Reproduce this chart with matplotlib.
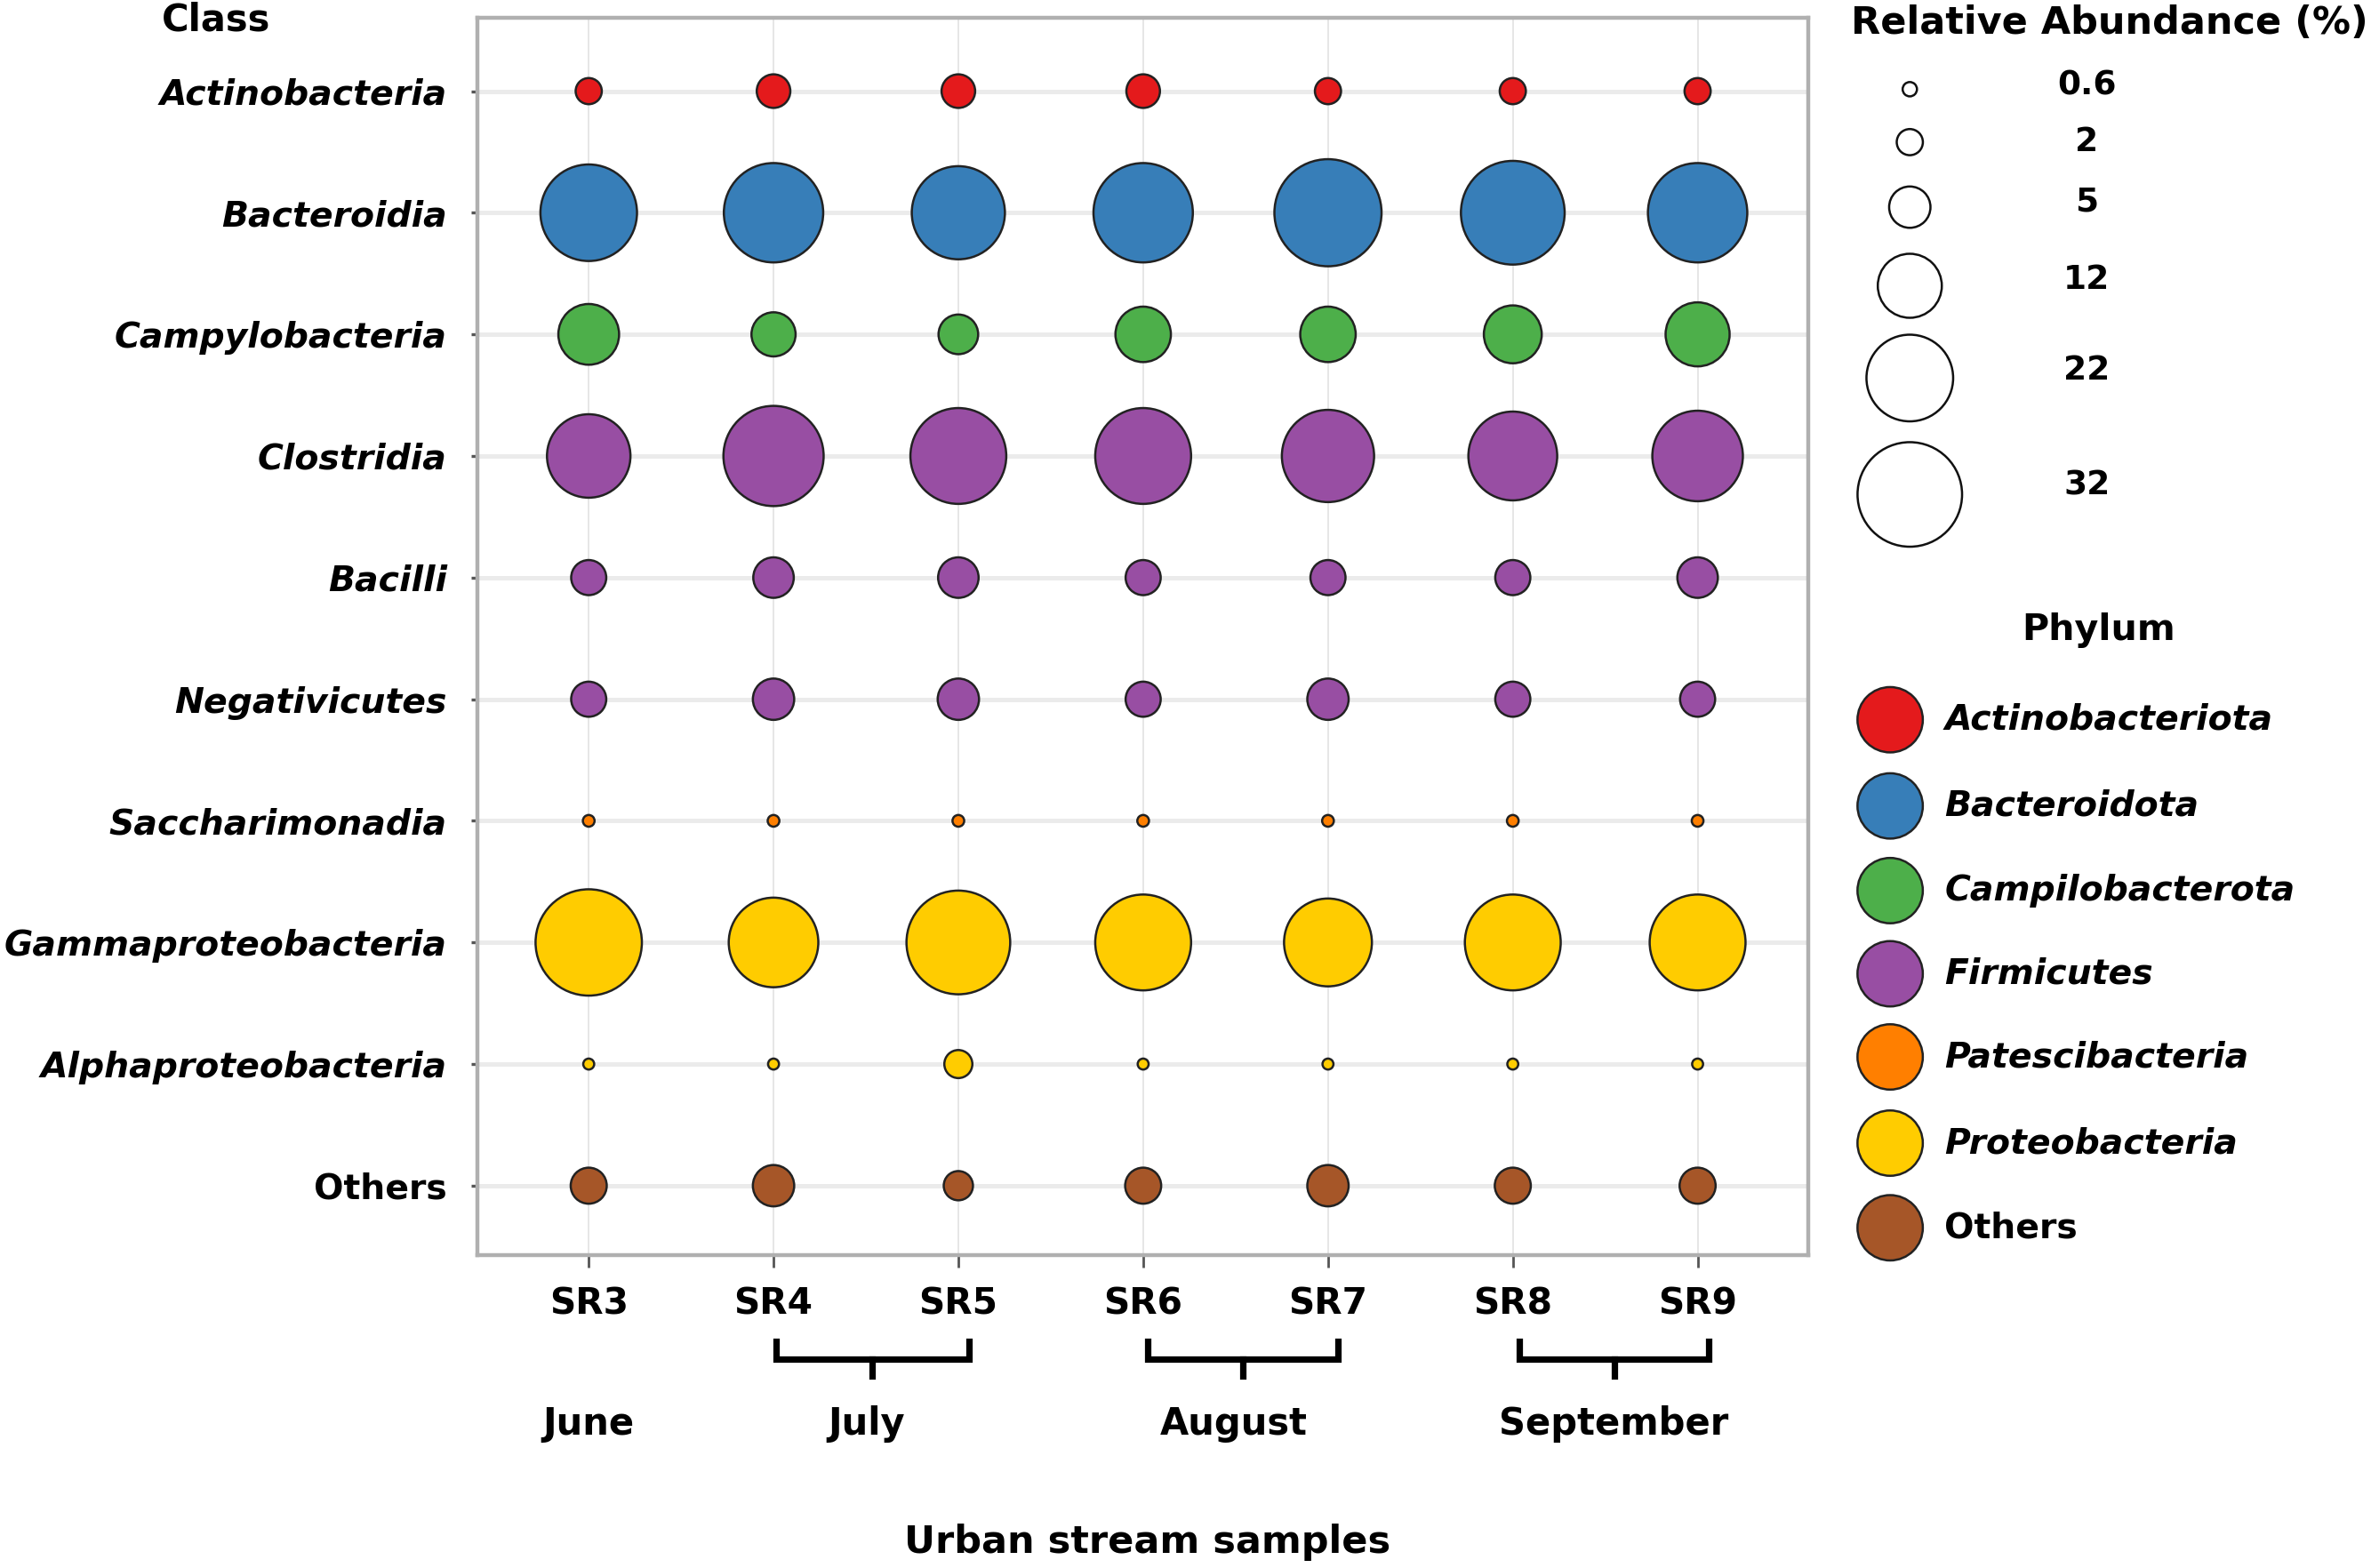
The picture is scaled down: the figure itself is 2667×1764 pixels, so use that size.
import matplotlib
matplotlib.use("Agg")
import matplotlib.pyplot as plt
import numpy as np

# ---------------- data ----------------
samples = ["SR3", "SR4", "SR5", "SR6", "SR7", "SR8", "SR9"]
classes = ["Actinobacteria", "Bacteroidia", "Campylobacteria", "Clostridia", "Bacilli",
           "Negativicutes", "Saccharimonadia", "Gammaproteobacteria",
           "Alphaproteobacteria", "Others"]
class_phylum = ["Actinobacteriota", "Bacteroidota", "Campilobacterota", "Firmicutes",
                "Firmicutes", "Firmicutes", "Patescibacteria", "Proteobacteria",
                "Proteobacteria", "Others"]

actinobacteria      = [2.0, 3.3, 3.3, 3.3, 2.0, 2.0, 2.0]
bacteroidia         = [27.3, 28.9, 25.4, 28.9, 33.6, 31.5, 28.9]
campylobacteria     = [10.8, 5.7, 4.6, 9.0, 9.0, 9.8, 12.0]
clostridia          = [20.4, 29.4, 26.9, 26.9, 24.9, 23.1, 24.0]
bacilli             = [3.6, 4.8, 4.8, 3.6, 3.6, 3.6, 4.8]
negativicutes       = [3.6, 5.0, 5.0, 3.6, 5.0, 3.6, 3.6]
saccharimonadia     = [0.4, 0.4, 0.4, 0.4, 0.4, 0.4, 0.4]
gammaproteobacteria = [33.1, 23.5, 31.5, 26.9, 22.6, 26.9, 26.9]
alphaproteobacteria = [0.35, 0.35, 2.3, 0.35, 0.35, 0.35, 0.35]
others              = [3.8, 5.0, 2.5, 3.8, 5.0, 3.8, 3.8]

phyla = ["Actinobacteriota", "Bacteroidota", "Campilobacterota", "Firmicutes",
         "Patescibacteria", "Proteobacteria", "Others"]
phylum_colors = ["#e41a1c", "#377eb8", "#4daf4a", "#984ea3", "#ff7f00", "#ffcc00", "#a65628"]

size_legend_values = [0.6, 2, 5, 12, 22, 32]
size_legend_labels = ["0.6", "2", "5", "12", "22", "32"]

months = ["June", "July", "August", "September"]
month_groups = [[0], [1, 2], [3, 4], [5, 6]]

# ---------------- figure ----------------
W, H = 2667, 1764
DPI = 200
fig = plt.figure(figsize=(W / DPI, H / DPI), dpi=DPI)
plt.rcParams['font.family'] = ['DejaVu Sans']

K = 56.0  # marker area (pt^2) per percent

# display-pixel helpers (reference shown at 1568x1037)
DW, DH = 1568.0, 1037.0

ax = fig.add_axes([316 / DW, 1 - 830 / DH, (1196 - 316) / DW, (830 - 12) / DH])

values = [actinobacteria, bacteroidia, campylobacteria, clostridia, bacilli,
          negativicutes, saccharimonadia, gammaproteobacteria,
          alphaproteobacteria, others]

xs = np.arange(len(samples))
for i, (cls, vals) in enumerate(zip(classes, values)):
    col = phylum_colors[phyla.index(class_phylum[i])]
    ax.scatter(xs, np.full(len(xs), i), s=np.array(vals) * K, c=col,
               edgecolors="#222222", linewidths=0.9, zorder=3)

ax.set_xlim(-0.6, 6.6)
ax.set_ylim(len(classes) - 1 + 0.57, -0.6)
ax.set_xticks(xs)
ax.set_xticklabels(samples, fontsize=14.7, fontweight="bold")
ax.set_yticks(np.arange(len(classes)))
ylabels = ax.set_yticklabels(classes, fontsize=14.2, fontweight="bold")
for lab, name in zip(ylabels, classes):
    if name != "Others":
        lab.set_fontstyle("italic")

for xv in xs:
    ax.axvline(xv, color="#e6e6e6", lw=0.7, zorder=0)
for yv in range(len(classes)):
    ax.axhline(yv, color="#ebebeb", lw=1.8, zorder=0)

for sp in ax.spines.values():
    sp.set_color("#b0b0b0")
    sp.set_linewidth(1.6)
ax.tick_params(axis="y", length=2.5, width=1.2, color="#555555", pad=10)
ax.tick_params(axis="x", length=5, width=1.0, color="#555555", pad=8)

# ---------------- overlay axes in display-pixel coordinates ----------------
lax = fig.add_axes([0, 0, 1, 1])
lax.set_xlim(0, DW)
lax.set_ylim(DH, 0)
lax.axis("off")

lax.text(143, 13, "Class", fontsize=15, fontweight="bold", ha="center", va="center")

# size legend
lax.text(1395, 15, "Relative Abundance (%)", fontsize=15.5, fontweight="bold",
         ha="center", va="center")
size_y = [59, 94, 137, 189, 250, 327]
label_y = [57, 94, 134, 185, 245, 321]
lax.scatter(np.full(len(size_legend_values), 1263), size_y,
            s=np.array(size_legend_values) * K, c="white",
            edgecolors="#111111", linewidths=0.9)
for ly, lab in zip(label_y, size_legend_labels):
    lax.text(1380, ly, lab, fontsize=13.5, fontweight="bold", ha="center", va="center")

# phylum legend
lax.text(1388, 417, "Phylum", fontsize=14.8, fontweight="bold", ha="center", va="center")
phy_y = [476, 533, 589, 644, 699, 756, 812]
lax.scatter(np.full(len(phyla), 1250), phy_y, s=700, c=phylum_colors,
            edgecolors="#222222", linewidths=0.9)
for py, name in zip(phy_y, phyla):
    lax.text(1286, py, name, fontsize=14.2, fontweight="bold",
             fontstyle=("normal" if name == "Others" else "italic"),
             ha="left", va="center")

# month brackets
bracket_x = {1: (513, 641), 2: (759, 885), 3: (1005, 1130)}
for gi, (m, grp) in enumerate(zip(months, month_groups)):
    if len(grp) > 1:
        x0, x1 = bracket_x[gi]
        xm = (x0 + x1) / 2
        lax.plot([x0, x0, x1, x1], [887, 899, 899, 887], color="black", lw=2.6,
                 solid_joinstyle="miter")
        lax.plot([xm, xm], [899, 910], color="black", lw=2.6)
month_x = [389, 573, 816, 1067]
for mx, m in zip(month_x, months):
    lax.text(mx, 942, m, fontsize=15, fontweight="bold", ha="center", va="center")

lax.text(759, 1020, "Urban stream samples", fontsize=15.5, fontweight="bold",
         ha="center", va="center")

fig.savefig("out.png", dpi=DPI)
